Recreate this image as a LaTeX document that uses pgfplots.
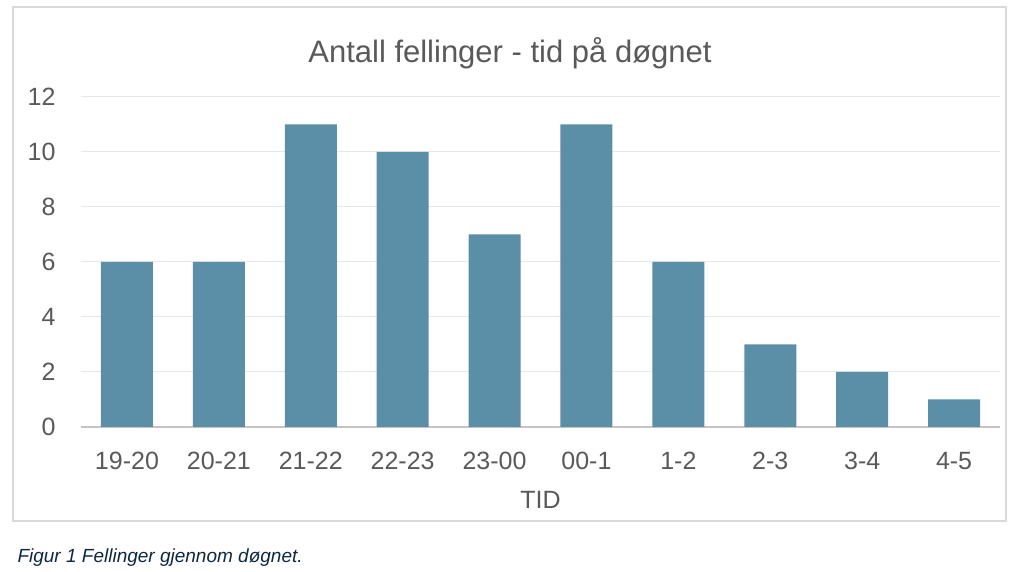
\documentclass[border=0pt]{standalone}
\usepackage{fontspec}
\setmainfont{Liberation Sans}
\usepackage{pgfplots}
\pgfplotsset{compat=1.18}
\definecolor{barblue}{HTML}{5B8FA8}
\definecolor{textgray}{HTML}{595959}
\definecolor{gridgray}{HTML}{E8E8E8}
\definecolor{linegray}{HTML}{C4C4C4}
\definecolor{framegray}{HTML}{D9D9D9}
\definecolor{capblue}{HTML}{0E2841}
\begin{document}
\begin{tikzpicture}
\path (0pt,0pt) rectangle (1024pt,572pt);
\draw[framegray, line width=1.2pt] (13pt,51pt) rectangle (1006pt,565pt);
\node[font=\fontsize{31}{37}\selectfont, text=textgray] at (510pt,519pt) {Antall fellinger - tid på døgnet};
\node[font=\fontsize{19}{23}\selectfont\itshape, text=capblue, anchor=base west] at (14pt,9pt) {Figur 1 Fellinger gjennom døgnet.};
\begin{axis}[
  at={(81pt,145pt)}, anchor=south west,
  scale only axis, width=919pt, height=330pt,
  xmin=-0.5, xmax=9.5, ymin=0, ymax=12,
  ytick={0,2,...,12},
  xtick={0,...,9},
  xticklabels={19-20,20-21,21-22,22-23,23-00,00-1,1-2,2-3,3-4,4-5},
  /pgf/number format/assume math mode=true,
  ticklabel style={font=\fontsize{25}{30}\selectfont, text=textgray},
  xticklabel style={yshift=-22pt},
  yticklabel style={xshift=-22pt},
  major tick length=0pt,
  axis line style={draw=none},
  ymajorgrids, grid style={gridgray, line width=1pt},
  extra y ticks={0}, extra y tick labels={},
  extra y tick style={grid style={linegray, line width=1.5pt}},
  xlabel={TID},
  xlabel style={font=\fontsize{25}{30}\selectfont, text=textgray, yshift=-14pt},
  clip=false,
]
\addplot[ybar, bar width=52pt, fill=barblue, draw=none] coordinates {
 (0,6) (1,6) (2,11) (3,10) (4,7) (5,11) (6,6) (7,3) (8,2) (9,1)
};
\end{axis}
\end{tikzpicture}
\end{document}
